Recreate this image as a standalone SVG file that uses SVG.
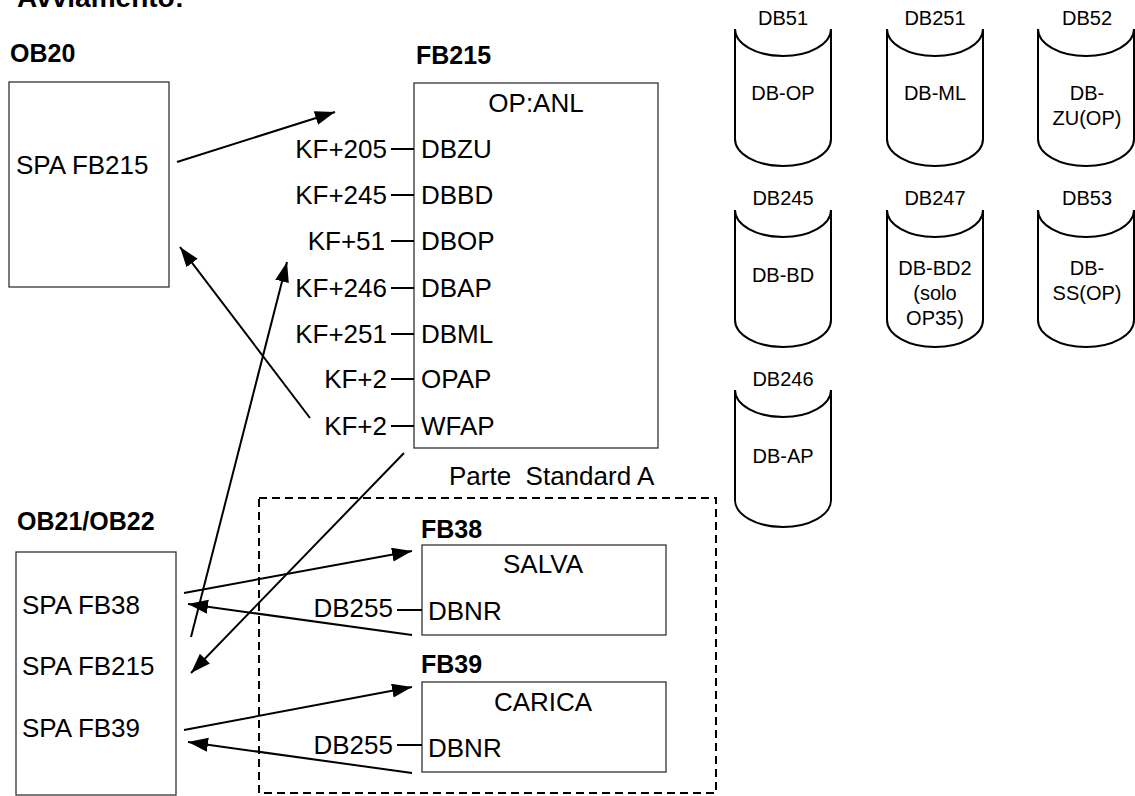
<svg xmlns="http://www.w3.org/2000/svg" width="1135" height="796" viewBox="0 0 1135 796">
<style>
text{font-family:"Liberation Sans",Arial,sans-serif;fill:#000}
.t{font-size:26px}
.b{font-size:25px;font-weight:bold}
.s{font-size:20px}
.m{text-anchor:middle}
.e{text-anchor:end}
.box{fill:#fff;stroke:#333;stroke-width:1.3}
.pin{stroke:#000;stroke-width:2}
.arr{stroke:#000;stroke-width:2;fill:none;marker-end:url(#ah)}
.cyl{fill:none;stroke:#000;stroke-width:2}
</style>
<defs>
<marker id="ah" markerUnits="userSpaceOnUse" markerWidth="22" markerHeight="16" refX="20" refY="7" orient="auto">
<path d="M0,0 L20,7 L0,14 Z" fill="#000"/>
</marker>
<path id="cy" d="M0,0 L0,110 A48,27 0 0 0 96,110 L96,0 M0,0 A48,27 0 0 0 96,0"/>
</defs>
<rect width="1135" height="796" fill="#fff"/>
<text x="17" y="7" style="font-size:28px;font-weight:bold">Avviamento:</text>

<g id="ob20">
<text class="b" x="10" y="62">OB20</text>
<rect class="box" x="9" y="82" width="160" height="205"/>
<text class="t" x="16" y="174">SPA FB215</text>
</g>

<g id="fb215">
<text class="b" x="416" y="64">FB215</text>
<rect class="box" x="414" y="83" width="244" height="365"/>
<text class="t m" x="536" y="112">OP:ANL</text>
<g class="t">
<text x="421" y="158">DBZU</text>
<text x="421" y="204">DBBD</text>
<text x="421" y="250">DBOP</text>
<text x="421" y="297">DBAP</text>
<text x="421" y="343">DBML</text>
<text x="421" y="388">OPAP</text>
<text x="421" y="435">WFAP</text>
</g>
<g class="t e">
<text x="387" y="158">KF+205</text>
<text x="387" y="204">KF+245</text>
<text x="385" y="250">KF+51</text>
<text x="387" y="297">KF+246</text>
<text x="387" y="343">KF+251</text>
<text x="387" y="388">KF+2</text>
<text x="387" y="435">KF+2</text>
</g>
<g class="pin">
<line x1="391" y1="149" x2="414" y2="149"/>
<line x1="391" y1="195" x2="414" y2="195"/>
<line x1="391" y1="241" x2="414" y2="241"/>
<line x1="391" y1="288" x2="414" y2="288"/>
<line x1="391" y1="334" x2="414" y2="334"/>
<line x1="391" y1="379" x2="414" y2="379"/>
<line x1="391" y1="426" x2="414" y2="426"/>
</g>
</g>

<g id="ob21">
<text class="b" x="17" y="530">OB21/OB22</text>
<rect class="box" x="16" y="552" width="160" height="243"/>
<text class="t" x="22" y="614">SPA FB38</text>
<text class="t" x="22" y="675">SPA FB215</text>
<text class="t" x="22" y="737">SPA FB39</text>
</g>

<g id="parte">
<rect x="259" y="498" width="457" height="295" fill="none" stroke="#000" stroke-width="2" stroke-dasharray="8,5"/>
<text class="t" x="449" y="485" style="white-space:pre">Parte  Standard A</text>
</g>

<g id="fb38">
<text class="b" x="421" y="538">FB38</text>
<rect class="box" x="422" y="545" width="244" height="90"/>
<text class="t m" x="543" y="573">SALVA</text>
<text class="t" x="428" y="620">DBNR</text>
<text class="t e" x="393" y="617">DB255</text>
<line class="pin" x1="397" y1="610" x2="422" y2="610"/>
</g>

<g id="fb39">
<text class="b" x="421" y="673">FB39</text>
<rect class="box" x="422" y="682" width="244" height="90"/>
<text class="t m" x="543" y="711">CARICA</text>
<text class="t" x="428" y="757">DBNR</text>
<text class="t e" x="393" y="754">DB255</text>
<line class="pin" x1="397" y1="745" x2="422" y2="745"/>
</g>

<g id="db51">
<text class="s m" x="783" y="25">DB51</text>
<use href="#cy" class="cyl" x="735" y="29"/>
<text class="s m" x="783" y="100">DB-OP</text>
</g>
<g id="db251">
<text class="s m" x="935" y="25">DB251</text>
<use href="#cy" class="cyl" x="887" y="29"/>
<text class="s m" x="935" y="100">DB-ML</text>
</g>
<g id="db52">
<text class="s m" x="1087" y="25">DB52</text>
<use href="#cy" class="cyl" x="1038" y="29"/>
<text class="s m" x="1087" y="100">DB-</text>
<text class="s m" x="1087" y="125">ZU(OP)</text>
</g>
<g id="db245">
<text class="s m" x="783" y="205">DB245</text>
<use href="#cy" class="cyl" x="735" y="210"/>
<text class="s m" x="783" y="282">DB-BD</text>
</g>
<g id="db247">
<text class="s m" x="935" y="205">DB247</text>
<use href="#cy" class="cyl" x="887" y="210"/>
<text class="s m" x="935" y="275">DB-BD2</text>
<text class="s m" x="935" y="300">(solo</text>
<text class="s m" x="935" y="325">OP35)</text>
</g>
<g id="db53">
<text class="s m" x="1087" y="205">DB53</text>
<use href="#cy" class="cyl" x="1038" y="210"/>
<text class="s m" x="1087" y="275">DB-</text>
<text class="s m" x="1087" y="300">SS(OP)</text>
</g>
<g id="db246">
<text class="s m" x="783" y="386">DB246</text>
<use href="#cy" class="cyl" x="735" y="390"/>
<text class="s m" x="783" y="463">DB-AP</text>
</g>

<g id="connectors">
<line class="arr" x1="177" y1="162" x2="335" y2="112"/>
<line class="arr" x1="310" y1="418" x2="180" y2="247"/>
<line class="arr" x1="191" y1="637" x2="287" y2="262"/>
<line class="arr" x1="404" y1="453" x2="191" y2="673"/>
<line class="arr" x1="184" y1="593" x2="412" y2="551"/>
<line class="arr" x1="412" y1="635" x2="188" y2="604"/>
<line class="arr" x1="184" y1="730" x2="412" y2="687"/>
<line class="arr" x1="412" y1="773" x2="188" y2="742"/>
</g>
</svg>
